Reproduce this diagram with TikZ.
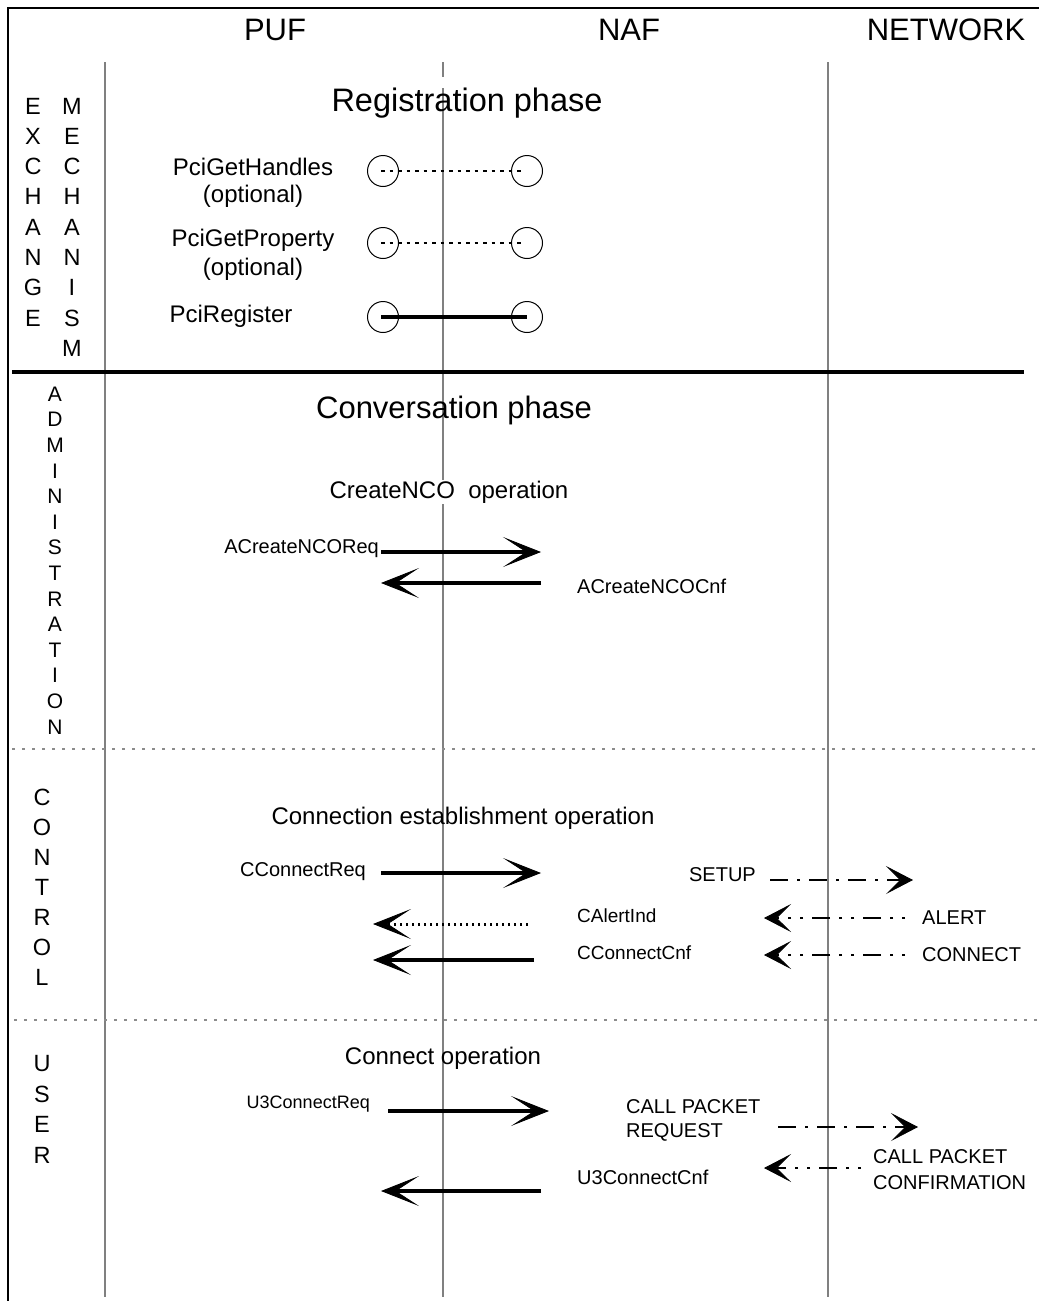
\documentclass[tikz,border=0pt]{standalone}
\usepackage{fontspec}
\setmainfont{Liberation Sans}
\usetikzlibrary{arrows.meta}

\newcommand{\fs}[1]{\fontsize{#1}{#1}\selectfont}

\tikzset{
  frameline/.style={line width=2.5pt, black},
  lane/.style={draw=black!50, line width=1.6pt},
  phasesep/.style={line width=4.5pt, black},
  groupsep/.style={draw=black!45, line width=1.4pt, dash pattern=on 3pt off 7pt},
  head/.style={inner sep=0pt, font=\fs{31}},
  phase/.style={inner sep=0pt, font=\fs{31}},
  oper/.style={inner sep=1pt, font=\fs{24}},
  sidelet/.style={inner sep=0pt, font=\fs{23.5}},
  admlet/.style={inner sep=0pt, font=\fs{21}},
  primlab/.style={inner sep=0pt, font=\fs{24}},
  msglab/.style={inner sep=0pt, font=\fs{20}},
  smalllab/.style={inner sep=0pt, font=\fs{19}},
  port/.style={circle, draw, line width=1pt, minimum size=31pt, inner sep=0pt},
  dotline/.style={line width=2.8pt, dash pattern=on 3.5pt off 5pt},
  solidline/.style={line width=4pt},
  bigtip/.style={-{Stealth[length=38pt,width=30pt,inset=23pt,line width=0.8pt]}},
  msg/.style={line width=4pt, bigtip},
  dotmsg/.style={line width=3pt, dash pattern=on 2.5pt off 3.5pt, bigtip},
  smalltip/.style={-{Stealth[length=27pt,width=28pt,inset=14pt,line width=0.8pt]}},
  netmsg/.style={line width=1.3pt, dash pattern=on 18pt off 9pt on 3pt off 9pt, smalltip},
  netmsgb/.style={line width=1.3pt, dash pattern=on 3pt off 9pt on 3pt off 9pt on 18pt off 9pt, smalltip},
}

\begin{document}
\begin{tikzpicture}[x=1pt, y=-1pt]
  \useasboundingbox (0,0) rectangle (1039,1301);
  \fill[white] (0,0) rectangle (1039,1301);

  % outer frame (left and top only)
  \coordinate (fr-bl) at (8,1301);
  \coordinate (fr-tl) at (8,8);
  \coordinate (fr-tr) at (1039,8);
  \draw[frameline] (fr-bl) -- (fr-tl) -- (fr-tr);

  % life lines
  \coordinate (puf-top) at (105,62);   \coordinate (puf-bot) at (105,1297);
  \coordinate (naf-top) at (443,62);   \coordinate (naf-brk) at (443,77);
  \coordinate (naf-res) at (443,88);   \coordinate (naf-bot) at (443,1297);
  \coordinate (net-top) at (828,62);   \coordinate (net-bot) at (828,1297);
  \draw[lane] (puf-top) -- (puf-bot);
  \draw[lane] (naf-top) -- (naf-brk);
  \draw[lane] (naf-res) -- (naf-bot);
  \draw[lane] (net-top) -- (net-bot);

  % separators between phases and groups
  \coordinate (ps-l) at (12,372);  \coordinate (ps-r) at (1024,372);
  \draw[phasesep] (ps-l) -- (ps-r);
  \coordinate (g1-l) at (12,749);  \coordinate (g1-r) at (1039,749);
  \draw[groupsep] (g1-l) -- (g1-r);
  \coordinate (g2-l) at (14,1020); \coordinate (g2-r) at (1039,1020);
  \draw[groupsep] (g2-l) -- (g2-r);

  % column headings
  \node[head] (h-puf) at (275,30) {PUF};
  \node[head] (h-naf) at (629,30) {NAF};
  \node[head] (h-net) at (946,30) {NETWORK};

  % vertical group names
  \foreach \ch [count=\i] in {E,X,C,H,A,N,G,E}
    \node[sidelet, name=exch-\i] at (33,{106+30.3*(\i-1)}) {\ch};
  \foreach \ch [count=\i] in {M,E,C,H,A,N,I,S,M}
    \node[sidelet, name=mech-\i] at (72,{106+30.3*(\i-1)}) {\ch};
  \foreach \ch [count=\i] in {A,D,M,I,N,I,S,T,R,A,T,I,O,N}
    \node[admlet, name=adm-\i] at (55,{394+25.6*(\i-1)}) {\ch};
  \foreach \ch [count=\i] in {C,O,N,T,R,O,L}
    \node[sidelet, name=ctl-\i] at (42,{797+30*(\i-1)}) {\ch};
  \foreach \ch [count=\i] in {U,S,E,R}
    \node[sidelet, name=usr-\i] at (42,{1064+30.4*(\i-1)}) {\ch};

  % registration phase
  \node[phase, font=\fs{32.5}] (regph) at (467,103) {Registration phase};

  \node[primlab] (gh1) at (253,167) {PciGetHandles};
  \node[primlab] (gh2) at (253,196) {(optional)};
  \node[primlab] (gp1) at (253,240) {PciGetProperty};
  \node[primlab] (gp2) at (253,269) {(optional)};
  \node[primlab] (rg1) at (231,316) {PciRegister};

  \node[port] (ghL) at (383,171) {};
  \node[port] (ghR) at (527,171) {};
  \node[port] (gpL) at (383,243) {};
  \node[port] (gpR) at (527,243) {};
  \node[port] (rgL) at (383,317) {};
  \node[port] (rgR) at (527,317) {};
  \draw[dotline] ([xshift=-2pt]ghL.center) -- ([xshift=-4pt]ghR.center);
  \draw[dotline] ([xshift=-2pt]gpL.center) -- ([xshift=-4pt]gpR.center);
  \draw[solidline] ([xshift=-2pt]rgL.center) -- (rgR.center);

  % conversation phase
  \node[phase] (convph) at (454,410) {Conversation phase};

  % CreateNCO operation
  \node[oper, fill=white] (op-nco) at (449,492) {CreateNCO\ \ operation};
  \node[msglab, anchor=east] (l-acreq) at (379,549) {ACreateNCOReq};
  \node[msglab, anchor=west] (l-accnf) at (577,586) {ACreateNCOCnf};
  \coordinate (acreq-s) at (381,552); \coordinate (acreq-e) at (541,552);
  \coordinate (accnf-s) at (541,583); \coordinate (accnf-e) at (381,583);
  \draw[msg] (acreq-s) -- (acreq-e);
  \draw[msg] (accnf-s) -- (accnf-e);

  % connection establishment operation
  \node[oper] (op-ce) at (463,818) {Connection establishment operation};
  \node[msglab, anchor=east] (l-ccreq) at (366,872) {CConnectReq};
  \node[smalllab, anchor=west] (l-calert) at (577,916) {CAlertInd};
  \node[smalllab, anchor=west] (l-cccnf) at (577,953) {CConnectCnf};
  \coordinate (ccreq-s) at (381,873);  \coordinate (ccreq-e) at (541,873);
  \coordinate (calert-s) at (528,924); \coordinate (calert-e) at (373,924);
  \coordinate (cccnf-s) at (534,960);  \coordinate (cccnf-e) at (373,960);
  \draw[msg] (ccreq-s) -- (ccreq-e);
  \draw[dotmsg] (calert-s) -- (calert-e);
  \draw[msg] (cccnf-s) -- (cccnf-e);

  \node[msglab, anchor=east] (l-setup) at (756,875) {SETUP};
  \node[msglab, anchor=west] (l-alert) at (922,918) {ALERT};
  \node[msglab, anchor=west] (l-connect) at (922,955) {CONNECT};
  \coordinate (setup-s) at (770,880); \coordinate (setup-e) at (913,880);
  \coordinate (alert-s) at (905,918); \coordinate (alert-e) at (764,918);
  \coordinate (conn-s) at (905,955);  \coordinate (conn-e) at (764,955);
  \draw[netmsg] (setup-s) -- (setup-e);
  \draw[netmsgb] (alert-s) -- (alert-e);
  \draw[netmsgb] (conn-s) -- (conn-e);

  % connect operation
  \node[oper] (op-conn) at (443,1058) {Connect operation};
  \node[msglab, anchor=east, font=\fs{18}] (l-u3req) at (370,1104) {U3ConnectReq};
  \node[msglab, anchor=west] (l-u3cnf) at (577,1177) {U3ConnectCnf};
  \coordinate (u3req-s) at (388,1111); \coordinate (u3req-e) at (549,1111);
  \coordinate (u3cnf-s) at (541,1191); \coordinate (u3cnf-e) at (381,1191);
  \draw[msg] (u3req-s) -- (u3req-e);
  \draw[msg] (u3cnf-s) -- (u3cnf-e);

  \node[msglab, anchor=west] (l-cpr1) at (626,1107) {CALL PACKET};
  \node[msglab, anchor=west] (l-cpr2) at (626,1132) {REQUEST};
  \node[msglab, anchor=west] (l-cpc1) at (873,1157) {CALL PACKET};
  \node[msglab, anchor=west] (l-cpc2) at (873,1183) {CONFIRMATION};
  \coordinate (cpreq-s) at (778,1127); \coordinate (cpreq-e) at (918,1127);
  \coordinate (cpcnf-s) at (861,1168); \coordinate (cpcnf-e) at (764,1168);
  \draw[netmsg] (cpreq-s) -- (cpreq-e);
  \draw[netmsgb] (cpcnf-s) -- (cpcnf-e);
\end{tikzpicture}
\end{document}
